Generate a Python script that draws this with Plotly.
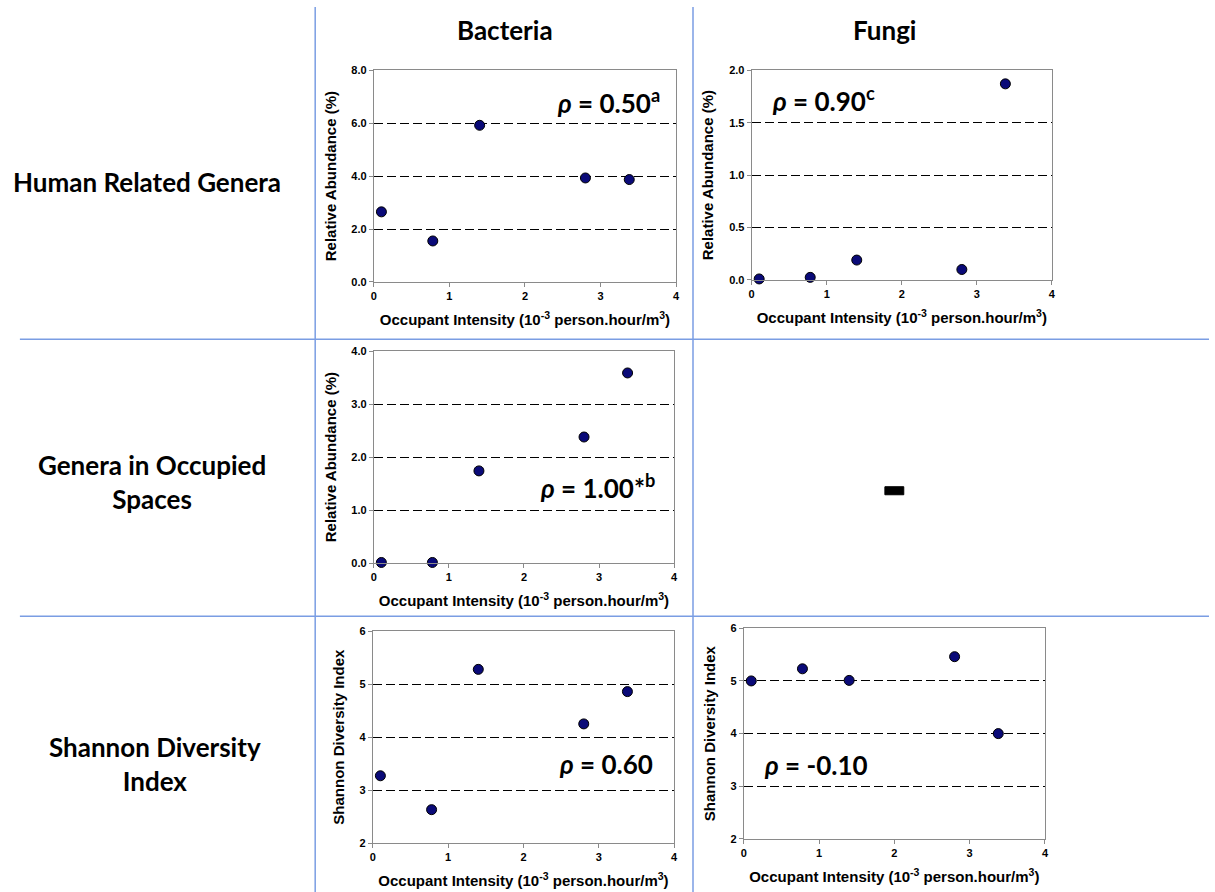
import plotly.graph_objects as go

W, H = 1215, 892

# ---------------- data ----------------
intensity = [0.1, 0.78, 1.4, 2.8, 3.38]
bact_human = [2.65, 1.55, 5.92, 3.93, 3.87]
fungi_human = [0.01, 0.025, 0.19, 0.10, 1.87]
bact_occupied = [0.01, 0.01, 1.74, 2.38, 3.59]
bact_shannon = [3.27, 2.63, 5.28, 4.25, 4.86]
fungi_shannon = [5.0, 5.23, 5.01, 5.46, 4.0]

col_labels = ["Bacteria", "Fungi"]
row_labels = ["Human Related Genera", "Genera in Occupied<br>Spaces", "Shannon Diversity<br>Index"]
rho_labels = ["<i>ρ</i> = 0.50<sup>a</sup>", "<i>ρ</i> = 0.90<sup>c</sup>",
              "<i>ρ</i> = 1.00*<sup>b</sup>", "<i>ρ</i> = 0.60", "<i>ρ</i> = -0.10"]
x_title = "Occupant Intensity (10<sup>-3</sup> person.hour/m<sup>3</sup>)"
y_titles = ["Relative Abundance (%)", "Relative Abundance (%)", "Relative Abundance (%)",
            "Shannon Diversity Index", "Shannon Diversity Index"]
y_ranges = [[0, 8], [0, 2], [0, 4], [2, 6], [2, 6]]
y_dticks = [2, 0.5, 1, 1, 1]
y_formats = [".1f", ".1f", ".1f", "d", "d"]
series = [bact_human, fungi_human, bact_occupied, bact_shannon, fungi_shannon]

# panel boxes in target pixels: (left, right, top, bottom)
boxes = [(373, 677, 71, 282), (753, 1055, 71, 280), (373, 675, 351, 562),
         (372, 675, 630, 841), (745, 1048, 627, 837)]
rho_pos = [(555, 102), (771, 100), (538, 486), (557, 762), (763, 763)]

# vertical correction observed between requested and photographed positions
Y0, YK = 7.0, 0.983

def px(x):
    return x / W

def py(y):
    return 1 - ((y - Y0) / YK) / H

fig = go.Figure()
layout = dict(width=W, height=H, margin=dict(l=0, r=0, t=0, b=0), autosize=False,
              paper_bgcolor="white", plot_bgcolor="white", showlegend=False)

tick_font = dict(family="Arial", size=11, color="black", weight="bold")
title_font = dict(family="Arial", size=15, color="black", weight="bold")
for i, (ys, box) in enumerate(zip(series, boxes)):
    n = "" if i == 0 else str(i + 1)
    l, r, t, b = box
    fig.add_trace(go.Scatter(
        x=intensity, y=ys, mode="markers", xaxis="x" + n, yaxis="y" + n,
        marker=dict(size=10, color="#0a0a78", line=dict(color="black", width=1)),
        cliponaxis=False))
    layout["xaxis" + n] = dict(
        domain=[px(l), px(r)], anchor="y" + n, range=[0, 4], dtick=1, tick0=0,
        showgrid=False, zeroline=False, showline=True, mirror=True,
        linecolor="#8a8a8a", linewidth=1, ticks="outside", ticklen=4,
        tickcolor="#8a8a8a", tickfont=tick_font,
        title=dict(text=x_title, font=title_font, standoff=13),
        fixedrange=True)
    layout["yaxis" + n] = dict(
        domain=[py(b), py(t)], anchor="x" + n, range=y_ranges[i], dtick=y_dticks[i],
        tick0=y_ranges[i][0], tickformat=y_formats[i],
        showgrid=True, gridcolor="black", gridwidth=1, griddash="9px,4px",
        zeroline=False, showline=True, mirror=True,
        linecolor="#8a8a8a", linewidth=1, ticks="outside", ticklen=4,
        tickcolor="#8a8a8a", tickfont=tick_font,
        title=dict(text=y_titles[i], font=title_font, standoff=11),
        fixedrange=True)

annotations = []
big = dict(family="Lato", size=26, color="black", weight="bold")
for txt, (x, y) in zip(rho_labels, rho_pos):
    annotations.append(dict(text=txt, x=px(x), y=py(y), xref="paper", yref="paper",
                            xanchor="left", yanchor="middle", showarrow=False, font=big))

head = dict(family="Lato", size=26, color="black", weight="bold")
for txt, x in zip(col_labels, [505, 887]):
    annotations.append(dict(text=txt, x=px(x), y=py(31), xref="paper", yref="paper",
                            xanchor="center", yanchor="middle", showarrow=False, font=head))
for txt, (x, y) in zip(row_labels, [(145, 182), (150, 481), (153, 762)]):
    annotations.append(dict(text=txt, x=px(x), y=py(y), xref="paper", yref="paper",
                            xanchor="center", yanchor="middle", showarrow=False, font=head,
                            align="center"))
layout["annotations"] = annotations

line_col = "#7a9de3"
shapes = [
    dict(type="line", xref="paper", yref="paper", x0=px(314), x1=px(314), y0=py(8), y1=py(900),
         line=dict(color=line_col, width=1.5)),
    dict(type="line", xref="paper", yref="paper", x0=px(694), x1=px(694), y0=py(8), y1=py(900),
         line=dict(color=line_col, width=1.5)),
    dict(type="line", xref="paper", yref="paper", x0=px(17), x1=px(1213), y0=py(339), y1=py(339),
         line=dict(color=line_col, width=1.5)),
    dict(type="line", xref="paper", yref="paper", x0=px(17), x1=px(1213), y0=py(615), y1=py(615),
         line=dict(color=line_col, width=1.5)),
    dict(type="rect", xref="paper", yref="paper", x0=px(887), x1=px(906), y0=py(494), y1=py(486),
         fillcolor="black", line=dict(color="black", width=1)),
]
layout["shapes"] = shapes

fig.update_layout(**layout)
reset_page = ("document.documentElement.style.margin='0';document.documentElement.style.padding='0';"
              "document.body.style.margin='0';document.body.style.padding='0';"
              "document.documentElement.style.overflow='hidden';document.body.style.overflow='hidden';")
fig.write_html("out.html", config={"displayModeBar": False}, post_script=reset_page)
